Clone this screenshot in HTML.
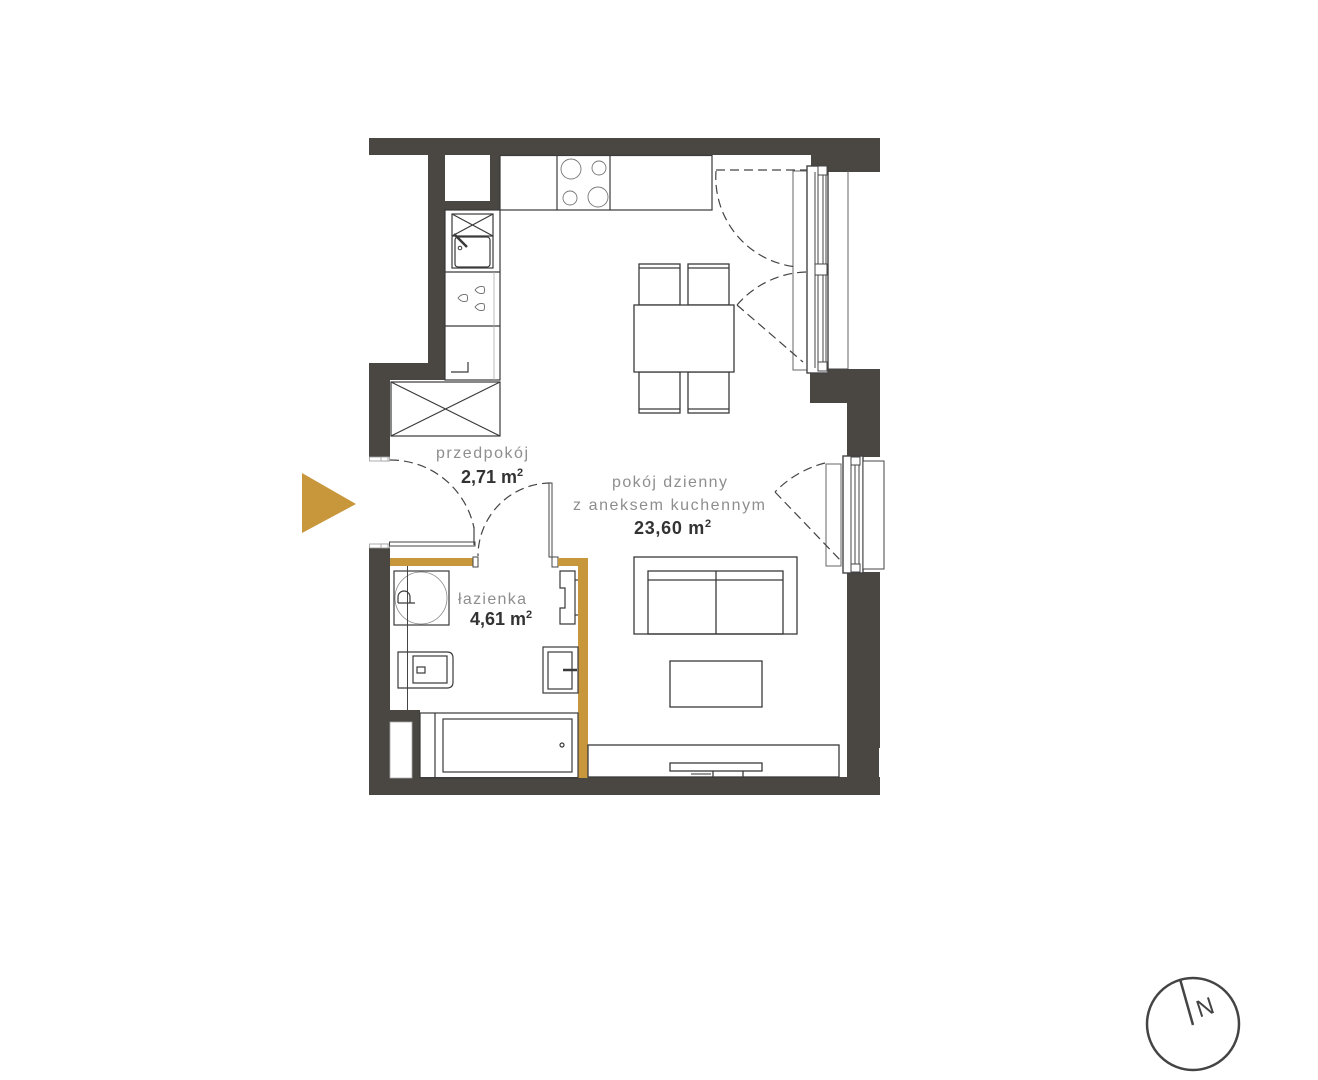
<!DOCTYPE html>
<html>
<head>
<meta charset="utf-8">
<style>
  html,body{margin:0;padding:0;background:#fff;}
  body{width:1318px;height:1080px;overflow:hidden;}
  svg{display:block;}
  .n{font-family:"Liberation Sans",sans-serif;fill:#8e8e8e;font-size:16px;}
  .a{font-family:"Liberation Sans",sans-serif;fill:#333;font-size:18px;font-weight:bold;}
</style>
</head>
<body>
<svg width="1318" height="1080" viewBox="0 0 1318 1080" xmlns="http://www.w3.org/2000/svg">
  <rect width="1318" height="1080" fill="#fff"/>

  <!-- ===== WALLS ===== -->
  <g fill="#4a4641">
    <rect x="369" y="138" width="442" height="17"/>
    <rect x="811" y="138" width="69" height="34"/>
    <rect x="428" y="155" width="72" height="55"/>
    <rect x="428" y="155" width="17" height="225"/>
    <rect x="369" y="363" width="76" height="17"/>
    <rect x="369" y="363" width="21" height="94"/>
    <rect x="369" y="548" width="21" height="247"/>
    <rect x="369" y="777" width="511" height="18"/>
    <rect x="390" y="710" width="30" height="68"/>
    <rect x="810" y="369" width="70" height="34"/>
    <rect x="847" y="403" width="33" height="54"/>
    <rect x="847" y="572" width="33" height="176"/>
    <rect x="847" y="748" width="32" height="30"/>
  </g>
  <!-- corner cabinet white square -->
  <rect x="445" y="155" width="45" height="46" fill="#fff"/>
  <!-- bottom-left niche -->
  <rect x="390" y="722" width="22" height="56" fill="#fff" stroke="#aaa" stroke-width="0.8"/>

  <!-- entrance frame pieces -->
  <rect x="369.5" y="457" width="20" height="4" fill="#fff" stroke="#999" stroke-width="0.8"/>
  <rect x="381" y="457" width="7" height="4" fill="#fff" stroke="#999" stroke-width="0.8"/>
  <rect x="369.5" y="544" width="20" height="4" fill="#fff" stroke="#999" stroke-width="0.8"/>
  <rect x="381" y="544" width="7" height="4" fill="#fff" stroke="#999" stroke-width="0.8"/>

  <!-- ===== BATHROOM PARTITIONS (gold) ===== -->
  <rect x="389.5" y="542" width="85.5" height="4" fill="#fff" stroke="#444" stroke-width="1"/>
  <rect x="390" y="558" width="83" height="8" fill="#c9973b"/>
  <rect x="473" y="557" width="5" height="10" fill="#fff" stroke="#444" stroke-width="1"/>
  <rect x="552" y="557" width="6" height="10" fill="#fff" stroke="#444" stroke-width="1"/>
  <rect x="558" y="558" width="30" height="8" fill="#c9973b"/>
  <rect x="578" y="558" width="10" height="220" fill="#c9973b"/>

  <!-- ===== KITCHEN ===== -->
  <g fill="none" stroke="#3a3a3a" stroke-width="1.2">
    <rect x="500" y="155.5" width="212" height="54.5" fill="#fff"/>
    <line x1="557" y1="155" x2="557" y2="210"/>
    <line x1="610" y1="155" x2="610" y2="210"/>
  </g>
  <g fill="none" stroke="#777" stroke-width="0.9">
    <circle cx="571" cy="169" r="10"/>
    <circle cx="599" cy="168" r="7"/>
    <circle cx="570" cy="198" r="7"/>
    <circle cx="598" cy="197" r="10"/>
  </g>
  <g fill="none" stroke="#3a3a3a" stroke-width="1.2">
    <rect x="445" y="210" width="55" height="170" fill="#fff"/>
    <line x1="445" y1="272" x2="500" y2="272"/>
    <line x1="445" y1="326" x2="500" y2="326"/>
    <rect x="452" y="214" width="41" height="54"/>
    <line x1="452" y1="214" x2="493" y2="236"/>
    <line x1="493" y1="214" x2="452" y2="236"/>
    <line x1="452" y1="236" x2="493" y2="236"/>
    <rect x="455" y="237" width="35" height="30" rx="3"/>
    <line x1="454" y1="234" x2="467" y2="247" stroke-width="2.5"/>
    <circle cx="460" cy="248" r="1.8" stroke-width="1"/>
    <path d="M451,372 H468 V362"/>
    <rect x="391" y="382" width="109" height="54" fill="#fff"/>
    <line x1="391" y1="382" x2="500" y2="436"/>
    <line x1="500" y1="382" x2="391" y2="436"/>
  </g>
  <line x1="494" y1="272" x2="494" y2="380" stroke="#aaa" stroke-width="0.8"/>
  <!-- droplets -->
  <g fill="none" stroke="#666" stroke-width="0.9">
    <path d="M475,290 Q479,285 484,287 Q485,290 484,293 Q479,295 475,290 Z"/>
    <path d="M458,298 Q462,293 467,295 Q468,298 467,301 Q462,303 458,298 Z"/>
    <path d="M475,307 Q479,302 484,304 Q485,307 484,310 Q479,312 475,307 Z"/>
  </g>

  <!-- ===== DINING ===== -->
  <g fill="#fff" stroke="#3a3a3a" stroke-width="1.3">
    <rect x="639" y="264" width="41" height="41"/>
    <rect x="688" y="264" width="41" height="41"/>
    <rect x="639" y="372" width="41" height="41"/>
    <rect x="688" y="372" width="41" height="41"/>
    <line x1="639" y1="268" x2="680" y2="268"/>
    <line x1="688" y1="268" x2="729" y2="268"/>
    <line x1="639" y1="409" x2="680" y2="409"/>
    <line x1="688" y1="409" x2="729" y2="409"/>
    <rect x="634" y="305" width="100" height="67"/>
  </g>

  <!-- ===== WINDOW 1 (balcony door) ===== -->
  <g fill="none" stroke="#444" stroke-width="1">
    <rect x="793" y="171" width="14" height="199" stroke="#666"/>
    <rect x="807" y="166" width="21" height="207" fill="#fff" stroke-width="1.4"/>
    <line x1="815" y1="172" x2="815" y2="368"/>
    <line x1="818" y1="172" x2="818" y2="368"/>
    <line x1="823" y1="172" x2="823" y2="368"/>
    <line x1="826" y1="172" x2="826" y2="368"/>
    <line x1="828" y1="171" x2="848" y2="171"/>
    <line x1="828" y1="369" x2="848" y2="369"/>
    <line x1="848" y1="171" x2="848" y2="369" stroke="#666"/>
    <rect x="815" y="264" width="12" height="11" fill="#fff"/>
    <rect x="818" y="166" width="9" height="9" fill="#fff"/>
    <rect x="818" y="362" width="9" height="9" fill="#fff"/>
  </g>
  <g fill="none" stroke="#444" stroke-width="1.2" stroke-dasharray="9,5">
    <line x1="716" y1="170" x2="807" y2="170"/>
    <path d="M716,171 A90,90 0 0,0 797,267"/>
    <path d="M806,272 A95,95 0 0,0 737,305"/>
    <line x1="737" y1="305" x2="803" y2="362"/>
  </g>

  <!-- ===== WINDOW 2 ===== -->
  <g fill="none" stroke="#444" stroke-width="1">
    <rect x="826" y="464" width="15" height="102" stroke="#666"/>
    <rect x="843" y="456" width="20" height="117" fill="#fff" stroke-width="1.4"/>
    <line x1="851" y1="462" x2="851" y2="567"/>
    <line x1="855" y1="462" x2="855" y2="567"/>
    <line x1="859" y1="462" x2="859" y2="567"/>
    <rect x="851" y="457" width="9" height="8" fill="#fff"/>
    <rect x="851" y="564" width="9" height="8" fill="#fff"/>
    <rect x="863" y="461" width="21" height="108" fill="#fff"/>
  </g>
  <g fill="none" stroke="#444" stroke-width="1.2" stroke-dasharray="9,5">
    <path d="M825,463 A105,105 0 0,0 775,492"/>
    <line x1="775" y1="492" x2="843" y2="563"/>
  </g>

  <!-- ===== ENTRANCE & BATH DOORS ===== -->
  <g fill="none" stroke="#444" stroke-width="1.2" stroke-dasharray="9,5">
    <path d="M390,460 A85,85 0 0,1 474,528"/>
    <path d="M551,483 A73,73 0 0,0 478,556"/>
  </g>
  <line x1="474" y1="527" x2="474" y2="545" stroke="#444" stroke-width="1.2"/>
  <rect x="549" y="483" width="3" height="74" fill="#fff" stroke="#444" stroke-width="1"/>

  <!-- ===== BATHROOM FIXTURES ===== -->
  <g fill="none" stroke="#3a3a3a" stroke-width="1.2">
    <rect x="394" y="571" width="55" height="54"/>
    <path d="M398,603 V597 A6,6 0 0,1 410,597 V603 M398,603 H415"/>
    <path d="M398,652 H447 Q453,652 453,658 V682 Q453,688 447,688 H398 Z"/>
    <rect x="413" y="656" width="34" height="27"/>
    <rect x="417" y="667" width="8" height="6"/>
    <path d="M560,571 H575 V624 H560 V608 H565 V588 H560 Z"/>
    <line x1="575" y1="580" x2="578" y2="580"/>
    <line x1="575" y1="615" x2="578" y2="615"/>
    <rect x="543" y="647" width="35" height="46"/>
    <rect x="548" y="652" width="24" height="37"/>
    <line x1="563" y1="670" x2="577" y2="670" stroke-width="2.5"/>
    <rect x="420" y="713" width="158" height="65"/>
    <line x1="435" y1="713" x2="435" y2="778"/>
    <rect x="443" y="719" width="129" height="53"/>
    <circle cx="562" cy="745" r="2"/>
  </g>
  <circle cx="421" cy="598" r="26" fill="none" stroke="#888" stroke-width="0.8"/>
  <line x1="407.5" y1="566" x2="407.5" y2="710" stroke="#444" stroke-width="1"/>

  <!-- ===== LIVING ===== -->
  <g fill="none" stroke="#3a3a3a" stroke-width="1.3">
    <rect x="634" y="557" width="163" height="77"/>
    <rect x="648" y="571" width="135" height="63"/>
    <line x1="648" y1="580" x2="783" y2="580"/>
    <line x1="716" y1="571" x2="716" y2="634"/>
    <rect x="670" y="661" width="92" height="46"/>
    <rect x="588" y="745" width="251" height="32" fill="#fff"/>
    <rect x="670" y="763" width="92" height="8"/>
    <line x1="713" y1="771" x2="713" y2="777"/>
    <line x1="743" y1="771" x2="743" y2="777"/>
  </g>
  <line x1="691" y1="774" x2="711" y2="774" stroke="#999" stroke-width="2"/>

  <!-- ===== LABELS ===== -->
  <text class="n" x="436" y="458" textLength="92" lengthAdjust="spacing">przedpokój</text>
  <text class="a" x="461" y="483">2,71 m<tspan font-size="11" dy="-7">2</tspan></text>

  <text class="n" x="612" y="487" textLength="115" lengthAdjust="spacing">pokój dzienny</text>
  <text class="n" x="573" y="510" textLength="192" lengthAdjust="spacing">z aneksem kuchennym</text>
  <text class="a" x="634" y="534" letter-spacing="0.7">23,60 m<tspan font-size="11" dy="-7">2</tspan></text>

  <text class="n" x="458" y="604" textLength="68" lengthAdjust="spacing">łazienka</text>
  <text class="a" x="470" y="625">4,61 m<tspan font-size="11" dy="-7">2</tspan></text>

  <!-- ===== ENTRANCE ARROW ===== -->
  <polygon points="302,473 302,533 356,504" fill="#c9973b"/>

  <!-- ===== COMPASS ===== -->
  <circle cx="1193" cy="1024" r="46" fill="none" stroke="#444" stroke-width="2.5"/>
  <line x1="1180" y1="979" x2="1193" y2="1025" stroke="#444" stroke-width="2.5"/>
  <text x="1196" y="1016" font-family="Liberation Sans, sans-serif" font-size="24" fill="#444" transform="rotate(-18 1203 1006)">N</text>
</svg>
</body>
</html>
